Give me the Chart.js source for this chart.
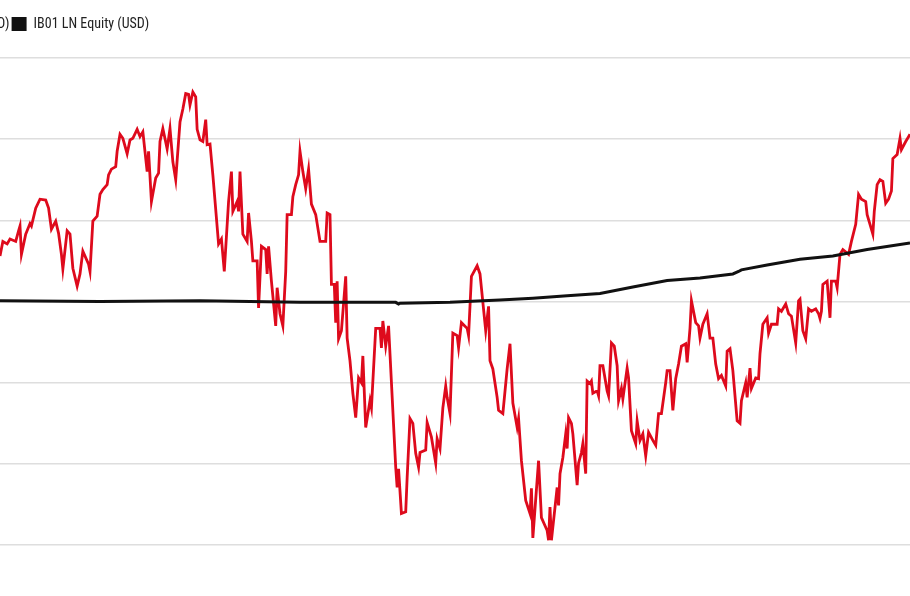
<!DOCTYPE html>
<html lang="en">
<head>
  <meta charset="UTF-8">
  <title>IB01 LN Equity (USD)</title>
  <script src="https://cdn.jsdelivr.net/npm/chart.js"></script>
  <style>
    html, body { margin: 0; padding: 0; background: #fff; overflow: hidden; }
    #wrap { position: relative; width: 910px; height: 596px; overflow: hidden; }
    #chart { position: absolute; top: 0; }
  </style>
</head>
<body>
  <div id="wrap"><canvas id="chart"></canvas></div>

  <script>
    // series labels
    const labelIndex = 'IBOV Index (USD)';
    const labelIb01 = 'IB01 LN Equity (USD)';

    // red series: trading day, % change
    const indexDays = [0,2,5,7,11,13,14,15,18,21,22,25,28,32,34,36,39,41,43,44,47,49,51,54,56,58,62,63,65,68,70,72,75,76,78,81,82,84,86,89,91,93,96,98,100,103,104,106,109,111,112,114,117,119,121,123,126,128,130,132,133,135,137,138,140,142,144,145,147,149,153,155,157,160,162,163,166,167,168,170,173,174,176,177,180,181,183,186,187,188,190,193,194,196,198,200,201,204,205,207,209,210,212,214,216,218,221,224,228,229,231,232,234,235,236,237,239,242,243,245,247,249,251,253,254,256,259,260,263,266,267,268,270,272,277,278,279,281,284,285,287,289,291,293,294,298,299,302,305,306,308,310,312,313,315,317,320,321,323,327,328,330,334,336,340,342,343,345,348,349,352,355,357,359,362,363,365,368,371,372,373,377,379,383,384,385,386,390,391,392,394,396,397,398,400,401,404,405,407,408,410,411,413,414,415,418,419,420,422,425,426,428,430,432,433,435,436,439,440,442,445,446,448,450,452,454,457,459,461,463,466,467,469,471,473,475,477,480,481,483,484,487,489,490,492,495,497,499,501,503,505,508,509,511,513,516,518,519,522,523,525,526,529,531,532,534,537,538,540,544,545,547,550,552,554,557,559,560,562,564,566,568,571,573,574,575,576,579,581,582,585,586,588,590,594,596,599,601,603,606,607,609,611,612,614,616,618,620,622,624,625,628,630,631,634,636,637];
    const indexValues = [5.6,7.4,7.1,7.7,7.4,8.7,9.3,5.8,8.3,9.6,9.3,11.5,12.6,12.5,11.5,8.9,9.9,8.4,5.8,4.0,8.7,8.3,4.1,1.9,3.4,6.2,4.6,3.7,9.9,10.5,13.2,13.8,14.4,15.6,16.3,16.6,18.5,20.6,20.1,18.2,19.9,20.1,21.2,20.3,20.9,16.0,18.5,12.3,15.2,15.8,19.7,21.3,18.8,21.3,17.2,15.0,22.1,23.7,25.6,25.5,24.2,25.8,25.2,21.2,19.9,19.7,22.4,19.3,19.4,15.6,7.1,7.7,3.7,12.3,16.0,11.1,12.3,11.1,16.0,8.3,7.4,10.9,7.4,5.0,5.0,-0.8,6.8,6.4,3.4,6.8,2.5,-3.0,1.7,-1.5,-3.0,3.7,10.7,10.7,12.9,14.4,15.6,18.5,16.0,13.9,16.3,12.0,10.7,7.4,7.4,10.9,10.7,2.1,2.1,-2.6,2.5,-4.6,-3.6,3.1,-4.5,-7.3,-11.3,-14.3,-9.4,-10.0,-6.7,-15.5,-12.2,-13.1,-3.3,-3.3,-5.7,-2.4,-5.5,-3.0,-20.4,-22.9,-20.6,-26.1,-25.9,-21.7,-14.4,-15.0,-18.7,-20.4,-18.6,-18.3,-14.9,-16.7,-19.9,-16.9,-18.1,-13.1,-10.4,-11.8,-13.8,-3.9,-4.2,-5.7,-2.6,-3.3,-4.2,3.1,4.4,3.4,-3.6,-0.6,-7.3,-8.3,-11.8,-13.4,-13.8,-8.3,-5.2,-12.5,-15.5,-14.4,-19.6,-24.5,-26.1,-23.0,-29.1,-19.6,-26.6,-28.2,-29.4,-25.3,-29.4,-22.9,-25.1,-21.2,-19.2,-16.3,-18.1,-14.3,-15.0,-16.3,-22.6,-19.9,-18.6,-17.5,-21.2,-9.8,-10.1,-9.8,-11.3,-11.0,-11.6,-7.9,-7.9,-11.0,-11.6,-5.1,-5.5,-7.9,-12.2,-10.7,-12.0,-8.2,-9.4,-15.9,-17.5,-14.7,-17.1,-16.3,-19.0,-16.1,-17.1,-17.7,-13.8,-13.8,-10.0,-8.5,-8.5,-13.4,-9.5,-7.7,-5.5,-5.2,-7.5,-3.3,0.1,-2.6,-3.0,-4.5,-2.8,-1.5,-4.5,-4.5,-7.7,-9.5,-9.1,-10.4,-6.1,-5.8,-8.5,-14.7,-15.0,-12.2,-10.0,-11.8,-8.2,-10.7,-9.4,-9.5,-6.4,-2.8,-2.0,-3.9,-2.8,-2.8,-0.9,-1.2,-0.3,-1.5,-1.8,-5.1,0.1,0.3,-3.6,-4.6,-0.9,-1.2,-0.9,-1.5,-2.1,-1.2,2.1,2.5,-2.0,2.5,2.5,1.7,5.8,6.4,5.8,7.4,9.5,13.2,12.6,12.3,10.7,9.5,8.3,11.1,14.4,15.0,14.8,12.1,12.6,13.6,17.6,18.1,20.1,18.7,19.7,20.3,20.6];

    // black series: trading day, % change
    const ib01Days = [0,70,140,210,245,277,279,280,315,350,373,397,420,443,467,490,513,517,519,537,560,583,607,637];
    const ib01Values = [0.1,0.0,0.1,-0.1,-0.1,-0.1,-0.3,-0.2,-0.1,0.2,0.4,0.7,1.0,1.8,2.6,2.9,3.4,3.7,3.9,4.5,5.2,5.6,6.4,7.2];

    // y grid
    const yGridMin = -30;
    const yGridMax = 30;
    const yStep = 10;

    const toPoints = (days, values) => days.map((d, i) => ({ x: d, y: values[i] }));

    const fontFamily = "'Roboto Condensed', 'DejaVu Sans Condensed', 'Liberation Sans Narrow', Roboto, sans-serif";
    const fontSize = 14;
    const boxW = 15;
    const legendPad = 2;

    // the first legend entry sits mostly off the left edge, as in the source crop
    const measure = document.createElement('canvas').getContext('2d');
    measure.font = fontSize + 'px ' + fontFamily;
    const firstWidth = measure.measureText(labelIndex).width;
    const shift = Math.round(legendPad + boxW + fontSize / 2 + firstWidth + legendPad - 12);

    const canvas = document.getElementById('chart');
    canvas.width = 910 + shift;
    canvas.height = 596;
    canvas.style.left = (-shift) + 'px';

    const lastDay = indexDays[indexDays.length - 1];
    const xMin = -shift * lastDay / 910;

    new Chart(canvas.getContext('2d'), {
      type: 'line',
      data: {
        datasets: [
          {
            label: labelIndex,
            data: toPoints(indexDays, indexValues),
            borderColor: '#de0a1c',
            backgroundColor: '#de0a1c',
            borderWidth: 2.8,
            pointRadius: 0,
            tension: 0,
            order: 1
          },
          {
            label: labelIb01,
            data: toPoints(ib01Days, ib01Values),
            borderColor: '#111111',
            backgroundColor: '#111111',
            borderWidth: 3,
            pointRadius: 0,
            tension: 0,
            order: 0
          }
        ]
      },
      options: {
        responsive: false,
        animation: false,
        devicePixelRatio: 1,
        layout: { padding: { top: 15, left: 0, right: 0, bottom: 0 } },
        plugins: {
          legend: {
            position: 'top',
            align: 'start',
            labels: {
              boxWidth: boxW,
              boxHeight: 14,
              padding: legendPad,
              color: '#222',
              font: { family: fontFamily, size: fontSize },
              sort: (a, b) => a.datasetIndex - b.datasetIndex,
              generateLabels: (chart) => Chart.defaults.plugins.legend.labels.generateLabels(chart)
                .map(l => ({ ...l, lineWidth: 0 }))
            }
          },
          tooltip: { enabled: false }
        },
        scales: {
          x: {
            type: 'linear',
            display: false,
            min: xMin,
            max: lastDay
          },
          y: {
            min: -36.26,
            max: 32.08,
            border: { display: false },
            grid: { color: '#dedede', lineWidth: 1.6, drawTicks: false },
            ticks: {
              display: false,
              stepSize: yStep,
              includeBounds: false
            },
            afterBuildTicks: (axis) => {
              axis.ticks = [];
              for (let v = yGridMin; v <= yGridMax; v += yStep) axis.ticks.push({ value: v });
            }
          }
        }
      }
    });
  </script>
</body>
</html>
